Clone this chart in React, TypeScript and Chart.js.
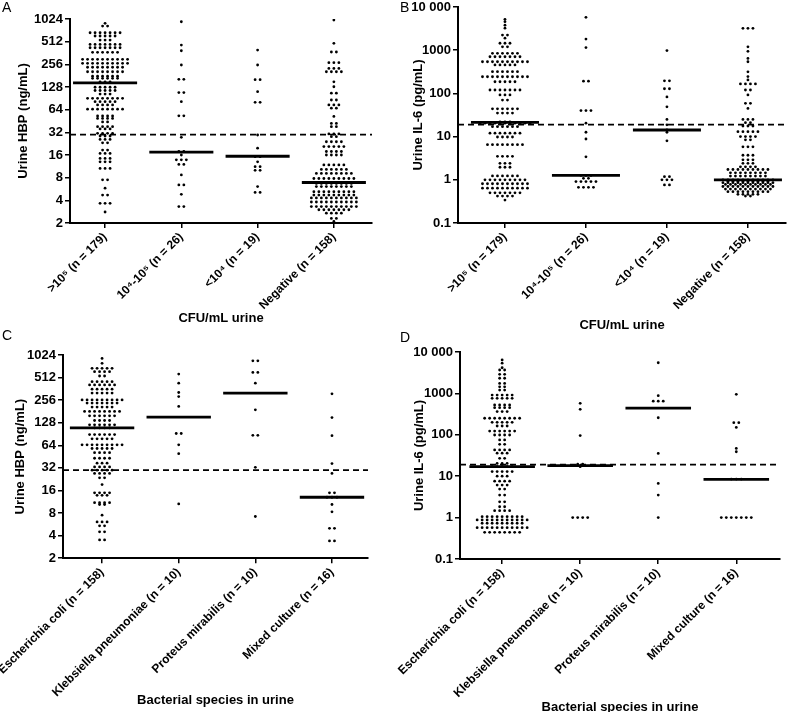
import React, { useEffect, useRef } from 'react';
import { Chart, registerables } from 'chart.js';
Chart.register(...registerables);

type Row = [number, number]; // [value, number of points at that value]

const cfuCategories = ['>10⁵ (n = 179)', '10⁴-10⁵ (n = 26)', '<10⁴ (n = 19)', 'Negative (n = 158)'];
const speciesCategories = [
  'Escherichia coli (n = 158)',
  'Klebsiella pneumoniae (n = 10)',
  'Proteus mirabilis (n = 10)',
  'Mixed culture (n = 16)',
];
const hbpTickValues = [2, 4, 8, 16, 32, 64, 128, 256, 512, 1024];
const hbpTickLabels = ['2', '4', '8', '16', '32', '64', '128', '256', '512', '1024'];
const il6TickValues = [0.1, 1, 10, 100, 1000, 10000];
const il6TickLabels = ['0.1', '1', '10', '100', '1000', '10 000'];

const hbpCutoff = 29.8;
const il6Cutoff = 19;

// Panel A: urine HBP by CFU/mL
const hbpCfuGt105: Row[] = [
  [898, 1], [826, 2], [672, 7], [609, 5], [537, 3], [471, 7], [425, 7], [370, 6], [298, 10], [264, 10],
  [234, 8], [204, 8], [178, 6], [167, 6], [150, 3], [127, 5], [115, 5], [103, 3], [90.5, 8], [81.6, 5],
  [74, 4], [65, 8], [52.7, 4], [49, 4], [44, 2], [38, 4], [35.5, 3], [31, 4], [28.6, 3], [25.8, 3],
  [23.2, 2], [18.6, 2], [16.8, 3], [14.4, 3], [13, 3], [10.6, 3], [7.5, 2], [5.8, 1], [4.7, 2], [3.65, 3], [2.8, 1],
];
const hbpCfu104to105: Row[] = [
  [942, 1], [461, 1], [388, 1], [251, 1], [162, 2], [108, 2], [81.6, 1], [53, 2], [27.5, 1], [17.8, 2],
  [16, 1], [13.8, 3], [12, 2], [8.7, 1], [6.4, 2], [4.8, 1], [3.3, 2],
];
const hbpCfuLt104: Row[] = [
  [396, 1], [251, 1], [160, 2], [111, 1], [80, 2], [29.5, 1], [19.7, 1], [15.2, 2], [13, 1], [11.2, 2],
  [10, 2], [6.1, 1], [5.1, 2],
];
const hbpCfuNegative: Row[] = [
  [990, 1], [487, 1], [373, 2], [269, 3], [226, 3], [204, 4], [150, 1], [129, 1], [106, 2], [86, 2],
  [74, 3], [67, 2], [52, 1], [42, 2], [38, 2], [30.5, 3], [28, 2], [24, 4], [20.7, 5], [17.8, 4], [16, 4],
  [11.8, 5], [10.3, 6], [9.1, 8], [7.8, 9], [6.7, 8], [6.1, 8], [5.2, 9], [4.7, 9], [4.3, 10], [3.8, 10],
  [3.3, 10], [3.0, 7], [2.7, 4], [2.3, 2], [2.1, 1],
];
const hbpCfuMedians = [145, 17.5, 15.4, 6.9];

// Panel B: urine IL-6 by CFU/mL
const il6CfuGt105: Row[] = [
  [5190, 1], [4570, 1], [3800, 1], [3230, 1], [2240, 2], [1900, 1], [1450, 3], [1200, 2], [845, 6], [705, 7],
  [540, 10], [457, 5], [318, 6], [243, 10], [186, 5], [120, 7], [92, 3], [70, 2], [44, 6], [35, 4], [22, 3],
  [20.5, 11], [17, 6], [12, 7], [9.8, 4], [6.5, 8], [3.5, 4], [2.4, 3], [1.95, 3], [1.23, 6], [1.0, 9],
  [0.81, 10], [0.64, 10], [0.5, 7], [0.42, 4], [0.34, 1],
];
const il6Cfu104to105: Row[] = [
  [5770, 1], [1810, 1], [1150, 1], [192, 2], [40, 3], [20.5, 1], [12.6, 1], [8.8, 1], [3.4, 1], [1.26, 3],
  [1.08, 2], [0.91, 5], [0.67, 4],
];
const il6CfuLt104: Row[] = [
  [980, 1], [195, 2], [128, 2], [83, 1], [49, 1], [25, 1], [18.7, 1], [14.2, 1], [12.6, 1], [8.0, 1],
  [1.18, 2], [1.0, 3], [0.76, 2],
];
const il6CfuNegative: Row[] = [
  [3210, 3], [1200, 1], [940, 1], [645, 1], [540, 1], [316, 1], [245, 1], [205, 1], [166, 4], [120, 2],
  [92, 1], [59, 2], [45, 1], [25, 3], [21, 2], [17.6, 3], [13, 5], [10, 4], [8.4, 2], [5.8, 3], [3.7, 3],
  [2.9, 3], [2.4, 3], [2.0, 4], [1.73, 9], [1.45, 8], [1.22, 8], [1.0, 11], [0.93, 9], [0.86, 11],
  [0.78, 10], [0.7, 11], [0.61, 10], [0.53, 9], [0.46, 5], [0.42, 2],
];
const il6CfuMedians = [21.4, 1.26, 14.2, 1.0];

// Panel C: urine HBP by bacterial species
const hbpEcoli: Row[] = [
  [922, 1], [792, 1], [680, 5], [613, 4], [537, 2], [452, 5], [409, 6], [359, 5], [318, 5], [258, 9],
  [234, 7], [207, 5], [181, 8], [158, 6], [137, 4], [120, 6], [109, 4], [89, 6], [78, 5], [65, 9], [58, 5],
  [51, 4], [43, 4], [37, 3], [33, 4], [29.8, 5], [27, 4], [23.6, 2], [19.2, 1], [14.9, 4], [13.8, 3],
  [11, 4], [10.4, 2], [7.5, 1], [6.1, 3], [5.4, 2], [4.5, 2], [3.5, 2],
];
const hbpKlebsiella: Row[] = [[570, 1], [431, 1], [324, 1], [286, 1], [211, 1], [92, 2], [65, 1], [49.5, 1], [10.6, 1]];
const hbpProteus: Row[] = [[856, 2], [600, 2], [431, 1], [190, 1], [87, 2], [32.6, 1], [7.2, 1]];
const hbpMixed: Row[] = [
  [311, 1], [150, 1], [86, 1], [36.5, 1], [27, 1], [14.9, 2], [13, 3], [10.4, 1], [8.3, 1], [5.0, 2], [3.4, 2],
];
const hbpSpeciesMedians = [109, 152, 318, 13];

// Panel D: urine IL-6 by bacterial species
const il6Ecoli: Row[] = [
  [6440, 1], [5370, 1], [4170, 1], [3670, 2], [2890, 2], [2320, 2], [1740, 2], [1440, 2], [1200, 2], [910, 5],
  [760, 5], [525, 4], [452, 4], [363, 3], [251, 8], [200, 5], [163, 3], [123, 6], [99, 4], [75, 2], [59, 2],
  [43, 4], [36, 3], [27, 2], [20.4, 3], [17, 5], [12.9, 5], [10, 3], [7.6, 4], [6.1, 3], [4.9, 2], [3.5, 2],
  [2.4, 2], [1.83, 2], [1.47, 4], [1.05, 9], [0.88, 11], [0.73, 9], [0.57, 11], [0.44, 8],
];
const il6Klebsiella: Row[] = [[575, 1], [412, 1], [96, 1], [19.5, 2], [17, 1], [1.0, 4]];
const il6Proteus: Row[] = [[5500, 1], [880, 1], [650, 3], [258, 1], [35.5, 1], [6.7, 1], [3.5, 1], [1.0, 1]];
const il6Mixed: Row[] = [[950, 1], [196, 2], [151, 1], [47, 1], [39, 1], [8.5, 3], [1.0, 7]];
const il6SpeciesMedians = [17, 18, 440, 8.4];

const FONT = "'Liberation Sans', Arial, Helvetica, sans-serif";

interface PanelCfg {
  letter: string;
  letterX: number;
  letterY: number;
  box: { x: number; y: number; w: number; h: number };
  plot: { left: number; top: number; right: number; bottom: number };
  yTitle: string;
  yTitleX: number;
  xTitle: string;
  xTitleY: number;
  xMin: number;
  xMax: number;
  categories: string[];
  columns: Row[][];
  medians: number[];
  cutoff: number;
  yMin: number;
  yMax: number;
  yTicks: number[];
  yLabels: string[];
}

const panels: PanelCfg[] = [
  {
    letter: 'A', letterX: 2, letterY: 0,
    box: { x: 0, y: 0, w: 395, h: 340 },
    plot: { left: 70, top: 19, right: 372, bottom: 223 },
    yTitle: 'Urine HBP (ng/mL)', yTitleX: 23,
    xTitle: 'CFU/mL urine', xTitleY: 318,
    xMin: -0.46, xMax: 3.5,
    categories: cfuCategories,
    columns: [hbpCfuGt105, hbpCfu104to105, hbpCfuLt104, hbpCfuNegative],
    medians: hbpCfuMedians, cutoff: hbpCutoff,
    yMin: 2, yMax: 1024, yTicks: hbpTickValues, yLabels: hbpTickLabels,
  },
  {
    letter: 'B', letterX: 400, letterY: 0,
    box: { x: 395, y: 0, w: 396, h: 340 },
    plot: { left: 458, top: 7, right: 786, bottom: 223 },
    yTitle: 'Urine IL-6 (pg/mL)', yTitleX: 418,
    xTitle: 'CFU/mL urine', xTitleY: 325,
    xMin: -0.58, xMax: 3.47,
    categories: cfuCategories,
    columns: [il6CfuGt105, il6Cfu104to105, il6CfuLt104, il6CfuNegative],
    medians: il6CfuMedians, cutoff: il6Cutoff,
    yMin: 0.1, yMax: 10000, yTicks: il6TickValues, yLabels: il6TickLabels,
  },
  {
    letter: 'C', letterX: 2, letterY: 328,
    box: { x: 0, y: 340, w: 395, h: 372 },
    plot: { left: 63, top: 355, right: 368, bottom: 559 },
    yTitle: 'Urine HBP (ng/mL)', yTitleX: 20,
    xTitle: 'Bacterial species in urine', xTitleY: 701,
    xMin: -0.51, xMax: 3.47,
    categories: speciesCategories,
    columns: [hbpEcoli, hbpKlebsiella, hbpProteus, hbpMixed],
    medians: hbpSpeciesMedians, cutoff: hbpCutoff,
    yMin: 2, yMax: 1024, yTicks: hbpTickValues, yLabels: hbpTickLabels,
  },
  {
    letter: 'D', letterX: 400, letterY: 330,
    box: { x: 395, y: 340, w: 396, h: 390 },
    plot: { left: 460, top: 352, right: 780, bottom: 559 },
    yTitle: 'Urine IL-6 (pg/mL)', yTitleX: 419,
    xTitle: 'Bacterial species in urine', xTitleY: 707,
    xMin: -0.54, xMax: 3.56,
    categories: speciesCategories,
    columns: [il6Ecoli, il6Klebsiella, il6Proteus, il6Mixed],
    medians: il6SpeciesMedians, cutoff: il6Cutoff,
    yMin: 0.1, yMax: 10000, yTicks: il6TickValues, yLabels: il6TickLabels,
  },
];

const TITLE_SIZE = 13;
const TITLE_OFFSET = (TITLE_SIZE * 1.2) / 2 + 4;
const DOT_SPACING_PX = 5;

function Panel({ cfg }: { cfg: PanelCfg }) {
  const ref = useRef<HTMLCanvasElement | null>(null);
  useEffect(() => {
    if (!ref.current) return;
    const { box, plot } = cfg;
    const padLeft = cfg.yTitleX - box.x - TITLE_OFFSET;
    const yAxisW = plot.left - box.x - padLeft;
    const padTop = plot.top - box.y;
    const padRight = box.x + box.w - plot.right;
    const xAxisH = cfg.xTitleY + TITLE_OFFSET - plot.bottom;
    const padBottom = box.y + box.h - (cfg.xTitleY + TITLE_OFFSET);

    const pxPerUnit = (plot.right - plot.left) / (cfg.xMax - cfg.xMin);
    const dx = DOT_SPACING_PX / pxPerUnit;
    const half = 0.42;

    const points = cfg.columns.flatMap((rows, ci) =>
      rows.flatMap(([v, n]) =>
        Array.from({ length: n }, (_, k) => ({ x: ci + (k - (n - 1) / 2) * dx, y: v }))
      )
    );

    const medianSets = cfg.medians.map((m, i) => ({
      data: [{ x: i - half, y: m }, { x: i + half, y: m }],
      showLine: true,
      borderColor: '#000',
      borderWidth: 2.8,
      pointRadius: 0,
      pointHoverRadius: 0,
    }));

    const chart = new Chart(ref.current, {
      type: 'scatter',
      data: {
        datasets: [
          {
            data: points,
            pointRadius: 1.4,
            pointHoverRadius: 1.4,
            pointBackgroundColor: '#000',
            pointBorderWidth: 0,
            showLine: false,
          } as any,
          ...medianSets,
          {
            data: [{ x: cfg.xMin, y: cfg.cutoff }, { x: cfg.xMax, y: cfg.cutoff }],
            showLine: true,
            borderColor: '#000',
            borderWidth: 1.7,
            borderDash: [6, 4],
            pointRadius: 0,
            pointHoverRadius: 0,
          },
        ],
      },
      options: {
        responsive: false,
        animation: false,
        events: [],
        layout: { padding: { left: padLeft, top: padTop, right: padRight, bottom: Math.max(0, padBottom) } },
        plugins: { legend: { display: false }, tooltip: { enabled: false } },
        scales: {
          x: {
            type: 'linear',
            min: cfg.xMin,
            max: cfg.xMax,
            afterBuildTicks: (scale: any) => {
              scale.ticks = cfg.categories.map((_, i) => ({ value: i }));
            },
            afterFit: (scale: any) => {
              scale.height = xAxisH;
              scale.paddingLeft = 0;
              scale.paddingRight = 0;
            },
            grid: { drawOnChartArea: false, drawTicks: true, tickLength: 5, color: '#000', lineWidth: 1.5 },
            border: { display: true, color: '#000', width: 2 },
            ticks: {
              autoSkip: false,
              minRotation: 45,
              maxRotation: 45,
              padding: 2,
              color: '#000',
              font: { family: FONT, size: 12, weight: 'bold' },
              callback: (_v: any, i: number) => cfg.categories[i],
            },
            title: {
              display: true,
              text: cfg.xTitle,
              color: '#000',
              font: { family: FONT, size: TITLE_SIZE, weight: 'bold' },
              padding: { top: 4, bottom: 4 },
            },
          },
          y: {
            type: 'logarithmic',
            min: cfg.yMin,
            max: cfg.yMax,
            afterBuildTicks: (scale: any) => {
              scale.ticks = cfg.yTicks.map((v) => ({ value: v }));
            },
            afterFit: (scale: any) => {
              scale.width = yAxisW;
              scale.paddingTop = 0;
              scale.paddingBottom = 0;
            },
            grid: { drawOnChartArea: false, drawTicks: true, tickLength: 5, color: '#000', lineWidth: 1.5 },
            border: { display: true, color: '#000', width: 2 },
            ticks: {
              autoSkip: false,
              padding: 2,
              color: '#000',
              font: { family: FONT, size: 13, weight: 'bold' },
              callback: (_v: any, i: number) => cfg.yLabels[i],
            },
            title: {
              display: true,
              text: cfg.yTitle,
              color: '#000',
              font: { family: FONT, size: TITLE_SIZE, weight: 'bold' },
              padding: { top: 4, bottom: 4 },
            },
          },
        },
      } as any,
    });
    return () => chart.destroy();
  }, [cfg]);

  return (
    <>
      <canvas
        ref={ref}
        width={cfg.box.w}
        height={cfg.box.h}
        style={{ position: 'absolute', left: cfg.box.x, top: cfg.box.y, width: cfg.box.w, height: cfg.box.h }}
      />
      <div
        style={{
          position: 'absolute',
          left: cfg.letterX,
          top: cfg.letterY,
          fontFamily: FONT,
          fontSize: 14,
          lineHeight: '14px',
          color: '#000',
        }}
      >
        {cfg.letter}
      </div>
    </>
  );
}

export default function App() {
  return (
    <div
      style={{
        position: 'fixed',
        left: 0,
        top: 0,
        width: 791,
        height: 712,
        overflow: 'hidden',
        background: '#fff',
      }}
    >
      {panels.map((p) => (
        <Panel key={p.letter} cfg={p} />
      ))}
    </div>
  );
}
